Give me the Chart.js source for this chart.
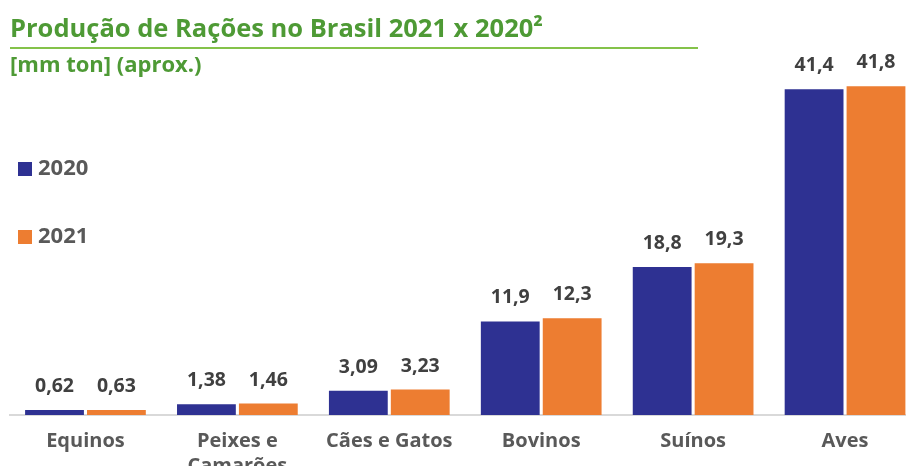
<!DOCTYPE html>
<html>
<head>
<meta charset="utf-8">
<script src="https://cdn.jsdelivr.net/npm/chart.js@4.4.1/dist/chart.umd.min.js"></script>
<style>
  html, body { margin: 0; padding: 0; background: #fff; overflow: hidden; width: 906px; height: 466px; }
  #wrap { position: absolute; left: 0; top: 0; width: 930px; height: 466px; }
  .title { position: absolute; left: 10px; top: 15.4px; font: bold 25.5px/1 "Open Sans", sans-serif; color: #4e9a35; white-space: nowrap; }
  .rule { position: absolute; left: 10px; top: 47px; width: 688px; height: 2px; background: #84c24a; }
  .sub { position: absolute; left: 10px; top: 52px; font: bold 22px/1 "Open Sans", sans-serif; color: #4e9a35; white-space: nowrap; }
</style>
</head>
<body>
<div id="wrap"><canvas id="c"></canvas></div>
<div class="title">Produção de Rações no Brasil 2021 x 2020²</div>
<div class="rule"></div>
<div class="sub">[mm ton] (aprox.)</div>
<script>
// Feed production by segment, in million tonnes
const categories = ['Equinos', ['Peixes e', 'Camarões'], 'Cães e Gatos', 'Bovinos', 'Suínos', 'Aves'];
const series2020 = [0.62, 1.38, 3.09, 11.9, 18.8, 41.4];
const series2021 = [0.63, 1.46, 3.23, 12.3, 19.3, 41.8];
const seriesNames = ['2020', '2021'];
const seriesColors = ['#2e3192', '#ed7d31'];

const FONT = '"Open Sans", sans-serif';

// Value labels above each bar, decimal comma
const valueLabels = {
  id: 'valueLabels',
  afterDatasetsDraw(chart) {
    const ctx = chart.ctx;
    ctx.save();
    ctx.font = 'bold 19.5px ' + FONT;
    ctx.fillStyle = '#404040';
    ctx.textAlign = 'center';
    ctx.textBaseline = 'middle';
    chart.data.datasets.forEach((ds, i) => {
      chart.getDatasetMeta(i).data.forEach((bar, j) => {
        ctx.fillText(String(ds.data[j]).replace('.', ','), bar.x, bar.y - 23.5);
      });
    });
    ctx.restore();
  }
};

// Vertical legend on the left
const sideLegend = {
  id: 'sideLegend',
  afterDraw(chart) {
    const ctx = chart.ctx;
    ctx.save();
    ctx.font = 'bold 22px ' + FONT;
    ctx.textBaseline = 'middle';
    chart.data.datasets.forEach((ds, i) => {
      const cy = 169 + i * 68;
      ctx.fillStyle = ds.backgroundColor;
      ctx.fillRect(18, cy - 7, 14, 14);
      ctx.fillStyle = '#595959';
      ctx.fillText(ds.label, 38, cy);
    });
    ctx.restore();
  }
};

new Chart(document.getElementById('c'), {
  type: 'bar',
  data: {
    labels: categories,
    datasets: [
      { label: seriesNames[0], data: series2020, backgroundColor: seriesColors[0] },
      { label: seriesNames[1], data: series2021, backgroundColor: seriesColors[1] }
    ]
  },
  options: {
    responsive: true,
    maintainAspectRatio: false,
    animation: false,
    layout: { padding: { left: 9.5, right: 9, top: 61, bottom: 0 } },
    datasets: { bar: { categoryPercentage: 0.815, barPercentage: 0.95, borderWidth: 0 } },
    plugins: { legend: { display: false }, title: { display: false }, tooltip: { enabled: false } },
    scales: {
      x: {
        grid: { display: false, drawTicks: false },
        border: { display: true, color: '#d9d9d9', width: 2 },
        ticks: { color: '#595959', font: { family: FONT, size: 20, weight: 'bold', lineHeight: 1.25 }, padding: 13.5, maxRotation: 0, autoSkip: false },
        afterFit(scale) { scale.height = 51; }
      },
      y: { display: false, min: 0, max: 45 }
    }
  },
  plugins: [valueLabels, sideLegend]
});
</script>
</body>
</html>
